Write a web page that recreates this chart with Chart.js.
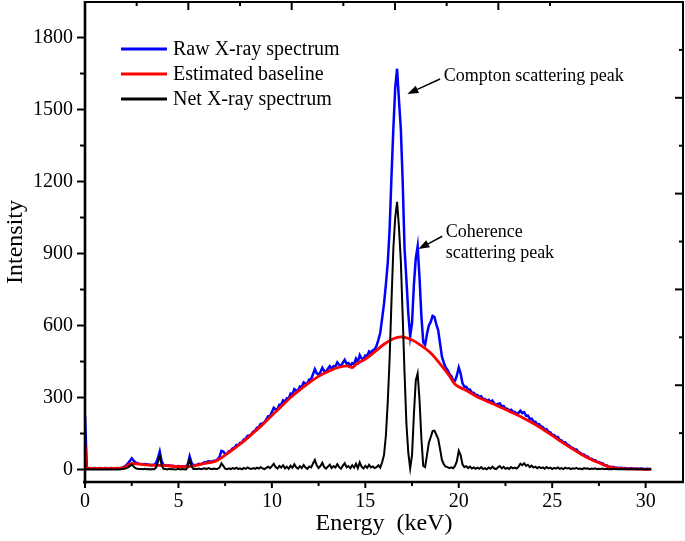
<!DOCTYPE html>
<html>
<head>
<meta charset="utf-8">
<script src="https://cdn.jsdelivr.net/npm/chart.js@4.4.1/dist/chart.umd.min.js"></script>
<style>
html,body{margin:0;padding:0;background:#fff;}
#wrap{width:685px;height:541px;position:relative;}
canvas{display:block;}
</style>
</head>
<body>
<div id="wrap"><canvas id="c" width="685" height="541"></canvas></div>
<script>
// ---------- DATA ----------
const seriesLabels = ['Raw X-ray spectrum', 'Estimated baseline', 'Net X-ray spectrum'];

// Energy channels (keV)
const energy = [
  0,0.1,0.2,0.3,0.4,0.5,0.6,0.7,0.8,0.9,
  1,1.1,1.2,1.3,1.4,1.5,1.6,1.7,1.8,1.9,
  2,2.1,2.2,2.3,2.4,2.5,2.6,2.7,2.8,2.9,
  3,3.1,3.2,3.3,3.4,3.5,3.6,3.7,3.8,3.9,
  4,4.1,4.2,4.3,4.4,4.5,4.6,4.7,4.8,4.9,
  5,5.1,5.2,5.3,5.4,5.5,5.6,5.7,5.8,5.9,
  6,6.1,6.2,6.3,6.4,6.5,6.6,6.7,6.8,6.9,
  7,7.1,7.2,7.3,7.4,7.5,7.6,7.7,7.8,7.9,
  8,8.1,8.2,8.3,8.4,8.5,8.6,8.7,8.8,8.9,
  9,9.1,9.2,9.3,9.4,9.5,9.6,9.7,9.8,9.9,
  10,10.1,10.2,10.3,10.4,10.5,10.6,10.7,10.8,10.9,
  11,11.1,11.2,11.3,11.4,11.5,11.6,11.7,11.8,11.9,
  12,12.1,12.2,12.3,12.4,12.5,12.6,12.7,12.8,12.9,
  13,13.1,13.2,13.3,13.4,13.5,13.6,13.7,13.8,13.9,
  14,14.1,14.2,14.3,14.4,14.5,14.6,14.7,14.8,14.9,
  15,15.1,15.2,15.3,15.4,15.5,15.6,15.7,15.8,15.9,
  16,16.1,16.2,16.3,16.4,16.5,16.6,16.7,16.8,16.9,
  17,17.1,17.2,17.3,17.4,17.5,17.6,17.7,17.8,17.9,
  18,18.1,18.2,18.3,18.4,18.5,18.6,18.7,18.8,18.9,
  19,19.1,19.2,19.3,19.4,19.5,19.6,19.7,19.8,19.9,
  20,20.1,20.2,20.3,20.4,20.5,20.6,20.7,20.8,20.9,
  21,21.1,21.2,21.3,21.4,21.5,21.6,21.7,21.8,21.9,
  22,22.1,22.2,22.3,22.4,22.5,22.6,22.7,22.8,22.9,
  23,23.1,23.2,23.3,23.4,23.5,23.6,23.7,23.8,23.9,
  24,24.1,24.2,24.3,24.4,24.5,24.6,24.7,24.8,24.9,
  25,25.1,25.2,25.3,25.4,25.5,25.6,25.7,25.8,25.9,
  26,26.1,26.2,26.3,26.4,26.5,26.6,26.7,26.8,26.9,
  27,27.1,27.2,27.3,27.4,27.5,27.6,27.7,27.8,27.9,
  28,28.1,28.2,28.3,28.4,28.5,28.6,28.7,28.8,28.9,
  29,29.1,29.2,29.3,29.4,29.5,29.6,29.7,29.8,29.9,
  30,30.1,30.2,30.3
];

// Raw X-ray spectrum intensity (blue)
const rawSpectrum = [
  225,6,6,5,5,6,5,5,6,5,
  5,6,5,5,6,5,5,6,5,6,
  8,12,17,26,36,47,37,30,26,24,
  23,22,23,21,21,18,20,19,26,47,
  75,35,19,18,16,18,15,16,13,14,
  15,12,14,13,12,22,55,29,17,19,
  20,24,22,26,30,29,35,33,33,37,
  37,43,53,78,75,64,66,76,79,88,
  91,102,102,111,113,125,128,140,142,147,
  158,162,174,177,190,192,197,209,222,223,
  239,257,250,252,270,271,288,283,297,296,
  316,313,335,328,330,346,344,363,358,359,
  375,376,397,418,401,394,407,424,410,408,
  420,431,420,431,429,446,436,431,445,457,
  441,444,432,443,439,462,448,477,463,460,
  475,473,492,487,497,500,515,540,570,630,
  690,770,860,1000,1220,1420,1590,1670,1540,1420,
  1200,920,790,650,555,610,770,880,930,800,
  640,530,520,565,600,615,640,635,605,580,
  525,470,445,425,415,398,390,372,370,392,
  425,400,360,345,345,332,333,320,320,310,
  310,302,305,294,294,286,290,281,287,275,
  270,273,275,262,265,253,253,245,249,241,
  240,232,236,245,235,239,224,225,211,212,
  200,199,187,189,179,177,166,168,157,155,
  144,144,135,135,123,121,112,113,104,101,
  92,90,83,83,73,70,63,63,56,54,
  46,45,40,39,32,31,27,25,19,18,
  13,12,10,10,7,7,6,7,5,6,
  4,4,5,4,3,4,3,3,4,2,
  2,3,2,2
];

// Net X-ray spectrum intensity (black)
const netSpectrum = [
  0,0,1,0,0,1,0,0,1,0,
  0,1,0,0,1,0,0,1,0,1,
  2,3,5,9,14,21,12,6,3,2,
  2,1,3,1,2,0,2,1,8,30,
  58,18,3,2,0,3,1,2,0,1,
  3,0,2,1,0,10,42,15,2,3,
  2,4,1,3,5,2,6,3,1,4,
  2,3,8,25,15,4,1,5,2,6,
  3,8,2,5,1,7,3,9,4,2,
  6,3,8,4,10,5,2,7,12,6,
  14,24,10,4,15,8,18,5,12,3,
  16,7,22,9,4,14,6,19,8,3,
  13,9,25,40,18,6,15,28,10,4,
  12,20,6,14,8,22,10,3,16,26,
  9,14,5,18,8,24,6,30,12,4,
  15,7,20,9,13,6,10,18,8,30,
  60,140,280,460,700,920,1050,1115,1010,870,
  640,400,190,70,5,60,230,370,400,290,
  130,15,10,60,112,135,160,162,145,128,
  85,40,22,12,10,6,9,5,15,35,
  78,60,22,10,14,6,12,4,9,3,
  8,3,10,2,6,1,8,3,12,4,
  2,9,14,5,11,3,7,2,10,5,
  8,4,12,24,18,26,15,20,10,16,
  8,12,5,11,6,9,3,10,5,8,
  2,7,4,9,3,6,2,8,4,6,
  2,5,3,7,2,4,1,6,3,5,
  1,4,2,5,1,3,2,4,1,3,
  1,2,1,3,1,2,1,2,1,2,
  1,1,2,1,1,2,1,1,2,1,
  1,2,1,1
];

// Estimated baseline (red), sampled more coarsely
const baselineEnergy = [
  0,0.1,1,2,2.2,2.5,3,3.5,4,4.5,5,5.5,6,6.5,7,7.5,8,8.5,9,9.5,
  10,10.5,11,11.5,12,12.5,13,13.5,14,14.3,14.5,15,15.5,16,16.5,16.9,17.5,18,18.5,19,
  19.5,19.8,20,20.5,21,21.5,22,22.5,23,23.5,24,24.5,25,25.5,26,26.5,27,27.5,28,28.5,
  29,29.5,30,30.3
];
const baselineValues = [
  110,5,5,6,12,26,21,18,17,15,12,12,18,27,35,60,88,118,152,187,
  225,263,300,332,362,388,408,424,432,425,438,460,490,522,545,553,540,516,485,440,
  390,355,345,325,302,285,268,250,232,213,192,168,142,115,90,66,45,28,12,5,
  3,2,1,1
];

// Axis ticks
const xTickValues = [0, 5, 10, 15, 20, 25, 30];
const xMinorValues = [2.5, 7.5, 12.5, 17.5, 22.5, 27.5];
const yTickValues = [0, 300, 600, 900, 1200, 1500, 1800];
const yMinorValues = [150, 450, 750, 1050, 1350, 1650];
// mirrored frame ticks (top and right edges) in their own step units
const topTickSteps = [1, 2, 3, 4, 5, 6, 7, 8, 9];
const rightTickSteps = [1, 2, 3, 4, 5, 6, 7, 8, 9];

// Annotation texts
const annotationTexts = [['Compton scattering peak'], ['Coherence', 'scattering peak']];

// ---------- STYLE / LAYOUT ----------
const FONT = "'Liberation Serif','Times New Roman',Times,serif";
const annotationLayout = [
  { text: [19.2, 1640], tail: [19.0, 1627], head: [17.25, 1565] },
  { text: [19.3, 990], tail: [19.12, 972], head: [17.84, 919] }
];

function seg(ctx, x1, y1, x2, y2) { ctx.beginPath(); ctx.moveTo(x1, y1); ctx.lineTo(x2, y2); ctx.stroke(); }

const framePlugin = {
  id: 'framePlugin',
  afterDraw(chart) {
    const { ctx, chartArea: a, scales } = chart;
    const x = scales.x, y = scales.y, xt = scales.xTop, yr = scales.yRight;
    ctx.save();
    ctx.strokeStyle = '#000';
    ctx.lineCap = 'butt';
    // axes & frame
    ctx.lineWidth = 2.6;
    seg(ctx, a.left, a.top - 1, a.left, a.bottom + 2);
    seg(ctx, a.left - 2, a.bottom, a.right + 1, a.bottom);
    ctx.lineWidth = 2;
    seg(ctx, a.left, a.top, a.right, a.top);
    seg(ctx, a.right, a.top - 1, a.right, a.bottom + 1);
    // bottom ticks (outward)
    ctx.lineWidth = 2;
    xTickValues.forEach(v => { const p = x.getPixelForValue(v); seg(ctx, p, a.bottom, p, a.bottom + 6); });
    xMinorValues.forEach(v => { const p = x.getPixelForValue(v); seg(ctx, p, a.bottom, p, a.bottom + 4); });
    // left ticks (outward)
    yTickValues.forEach(v => { const p = y.getPixelForValue(v); seg(ctx, a.left, p, a.left - 8, p); });
    yMinorValues.forEach(v => { const p = y.getPixelForValue(v); seg(ctx, a.left, p, a.left - 5, p); });
    // top ticks (inward)
    topTickSteps.forEach(k => { const p = xt.getPixelForValue(k); seg(ctx, p, a.top, p, a.top + (k % 2 === 0 ? 8 : 4)); });
    // right ticks (inward)
    rightTickSteps.forEach(k => { const p = yr.getPixelForValue(k); seg(ctx, a.right, p, a.right - (k % 2 === 0 ? 8 : 4), p); });
    ctx.restore();
  }
};

const legendPlugin = {
  id: 'legendPlugin',
  afterDraw(chart) {
    const { ctx, chartArea: a } = chart;
    ctx.save();
    ctx.font = '20px ' + FONT;
    ctx.textBaseline = 'middle';
    ctx.textAlign = 'left';
    chart.data.datasets.forEach((ds, i) => {
      const yy = a.top + 47 + i * 25;
      ctx.strokeStyle = ds.borderColor;
      ctx.lineWidth = 3;
      seg(ctx, a.left + 36, yy, a.left + 82, yy);
      ctx.fillStyle = '#000';
      ctx.fillText(ds.label, a.left + 88, yy + 1);
    });
    ctx.restore();
  }
};

const annotationPlugin = {
  id: 'annotationPlugin',
  afterDatasetsDraw(chart) {
    const { ctx, scales: { x, y } } = chart;
    ctx.save();
    ctx.fillStyle = '#000';
    ctx.strokeStyle = '#000';
    ctx.font = '18px ' + FONT;
    ctx.textBaseline = 'middle';
    ctx.textAlign = 'left';
    annotationLayout.forEach((n, i) => {
      const tx = x.getPixelForValue(n.text[0]), ty = y.getPixelForValue(n.text[1]);
      annotationTexts[i].forEach((t, j) => ctx.fillText(t, tx, ty + j * 21));
      const x1 = x.getPixelForValue(n.tail[0]), y1 = y.getPixelForValue(n.tail[1]);
      const x2 = x.getPixelForValue(n.head[0]), y2 = y.getPixelForValue(n.head[1]);
      const ang = Math.atan2(y2 - y1, x2 - x1);
      const L = 11, W = 4;
      const bx = x2 - L * Math.cos(ang), by = y2 - L * Math.sin(ang);
      ctx.lineWidth = 1.5;
      seg(ctx, x1, y1, bx, by);
      ctx.beginPath();
      ctx.moveTo(x2, y2);
      ctx.lineTo(bx + W * Math.sin(ang), by - W * Math.cos(ang));
      ctx.lineTo(bx - W * Math.sin(ang), by + W * Math.cos(ang));
      ctx.closePath();
      ctx.fill();
    });
    ctx.restore();
  }
};

const toXY = (xs, ys) => xs.map((e, i) => ({ x: e, y: ys[i] }));

new Chart(document.getElementById('c'), {
  type: 'line',
  data: {
    datasets: [
      { label: seriesLabels[0], data: toXY(energy, rawSpectrum), borderColor: '#0000ff', borderWidth: 2.5, pointRadius: 0, tension: 0, order: 3 },
      { label: seriesLabels[1], data: toXY(baselineEnergy, baselineValues), borderColor: '#ff0000', borderWidth: 2.8, pointRadius: 0, cubicInterpolationMode: 'monotone', order: 2 },
      { label: seriesLabels[2], data: toXY(energy, netSpectrum), borderColor: '#000000', borderWidth: 2, pointRadius: 0, tension: 0, order: 1 }
    ]
  },
  options: {
    responsive: false,
    devicePixelRatio: 1,
    animation: false,
    layout: { padding: { top: 2, right: 2, left: 0, bottom: 0 } },
    plugins: { legend: { display: false }, tooltip: { enabled: false } },
    scales: {
      x: {
        type: 'linear', position: 'bottom', min: 0, max: 32,
        afterBuildTicks: s => { s.ticks = xTickValues.map(v => ({ value: v })); },
        afterFit: s => { s.height = 59; s.paddingLeft = 0; s.paddingRight = 0; },
        grid: { display: false, drawTicks: false },
        border: { display: false },
        ticks: { padding: 8, color: '#000', font: { family: FONT, size: 20 }, maxRotation: 0, autoSkip: false, callback: v => String(v) },
        title: { display: true, text: 'Energy  (keV)', color: '#000', font: { family: FONT, size: 24 }, padding: { top: 0, bottom: 3 } }
      },
      y: {
        type: 'linear', position: 'left', min: -52, max: 1948,
        afterBuildTicks: s => { s.ticks = yTickValues.map(v => ({ value: v })); },
        afterFit: s => { s.width = 85; s.paddingTop = 0; s.paddingBottom = 0; },
        grid: { display: false, drawTicks: false },
        border: { display: false },
        ticks: { padding: 12, color: '#000', font: { family: FONT, size: 20 }, autoSkip: false, callback: v => String(v) },
        title: { display: true, text: 'Intensity', color: '#000', font: { family: FONT, size: 24 }, padding: { top: 1, bottom: 0 } }
      },
      xTop: { type: 'linear', position: 'top', display: false, min: 0, max: 11.574 },
      yRight: { type: 'linear', position: 'right', display: false, min: 0, max: 10.02, reverse: true }
    }
  },
  plugins: [framePlugin, annotationPlugin, legendPlugin]
});
</script>
</body>
</html>
